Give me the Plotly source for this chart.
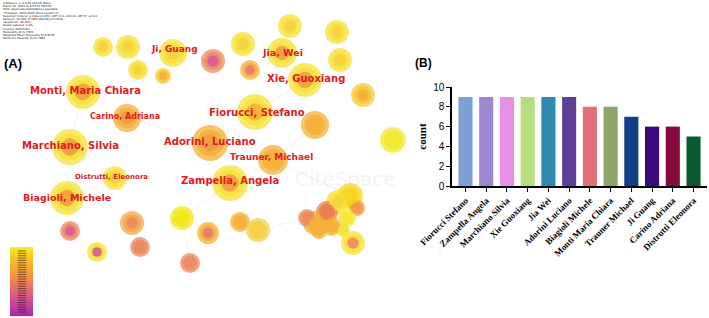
import plotly.graph_objects as go
import numpy as np

# ---------------- Panel B data ----------------
authors = ["Fiorucci Stefano", "Zampella Angela", "Marchiano Silvia", "Xie Guoxiang",
           "Jia Wei", "Adorini Luciano", "Biagioli Michele", "Monti Maria Chiara",
           "Trauner Michael", "Ji Guang", "Carino Adriana", "Distrutti Eleonora"]
counts = [9, 9, 9, 9, 9, 9, 8, 8, 7, 6, 6, 5]
bar_colors = ["#7ba1d6", "#9d86d2", "#e88fe6", "#b8dd7e", "#2e8ab1", "#5f3f96",
              "#e07075", "#8ba56a", "#0f3f86", "#3c0a80", "#850b3b", "#0a5a30"]
y_ticks = [0, 2, 4, 6, 8, 10]

# ---------------- Panel A data (CiteSpace network) ----------------
meta_lines = [
    "CiteSpace, v. 6.2.R2 (64-bit) Basic",
    "March 31, 2023 at 4:53:51 PM CST",
    "WoS: /Applications/CiteSpace.app/data",
    "Timespan: 2004-2022 (Slice Length=1)",
    "Selection Criteria: g-index (k=25), LRF=3.0, L/N=10, LBY=5, e=1.0",
    "Network: N=494, E=963 (Density=0.0079)",
    "Largest CC: 49 (9%)",
    "Nodes Labeled: 1.0%",
    "Pruning: Pathfinder",
    "Modularity Q=0.7353",
    "Weighted Mean Silhouette S=0.8735",
    "Harmonic Mean(Q, S)=0.7984",
]

Y, Y2, O, O2, S, M, P = "#f7e23a", "#f6cf45", "#f5b03a", "#f29a45", "#ec8a62", "#d65a9a", "#e77a78"
node_x = [103, 128, 173, 138, 163, 83, 127, 290, 337, 243, 213, 282, 250, 340, 305, 363, 255,
          315, 393, 70, 210, 273, 115, 230, 67, 70, 132, 97, 140, 182, 208, 190, 240, 258,
          353, 350, 338, 357, 327, 315, 307, 347, 343, 331, 319]
node_y = [47, 47, 53, 70, 76, 92, 118, 26, 32, 44, 61, 53, 70, 60, 80, 95, 112,
          125, 140, 147, 143, 160, 178, 183, 198, 231, 223, 252, 247, 218, 233, 263, 222, 230,
          243, 196, 202, 208, 212, 223, 218, 218, 230, 226, 231]
node_r = [10, 12, 14, 10, 8, 17, 14, 12, 12, 12, 12, 15, 10, 12, 17, 12, 18,
          14, 13, 18, 18, 15, 12, 18, 17, 10, 12, 10, 10, 12, 11, 10, 10, 12,
          12, 13, 12, 8, 11, 12, 9, 9, 7, 10, 8]
node_outer = [Y, Y, Y, Y, "#f6c83a", Y, O, Y, Y, Y, S, Y, O, Y, Y, "#f6c83a", Y,
              O, "#f5e830", Y, O, O, Y, Y, Y, S, "#f3a84a", Y, S, "#f5e61e", O, S, O, Y2,
              Y, "#f7d520", Y, O2, "#e8804a", O, S, "#f5e838", Y, O, O]
node_inner = [Y2, Y2, Y2, Y2, O, O2, O2, Y2, Y2, Y2, M, O2, P, Y2, O2, O, O,
              O, "#f5e830", O2, O2, O, Y2, O2, O2, M, S, M, S, "#f5e61e", P, S, O, Y2,
              S, "#f7d520", Y2, O2, "#e8804a", O, S, "#f5e838", Y, O, O]

label_text = ["Monti, Maria Chiara", "Carino, Adriana", "Fiorucci, Stefano", "Marchiano, Silvia",
              "Adorini, Luciano", "Trauner, Michael", "Distrutti, Eleonora", "Zampella, Angela",
              "Biagioli, Michele", "Ji, Guang", "Jia, Wei", "Xie, Guoxiang"]
label_x = [28, 88, 207, 20, 162, 228, 73, 179, 21, 149, 260, 265]
label_y = [90, 116, 112, 145, 141, 157, 177, 180, 197, 49, 52, 78]
label_size = [10, 8, 10, 10, 10, 9, 7, 10, 9.5, 9, 9.5, 10]

edges = [(5, 19), (19, 24), (20, 16), (20, 23), (23, 21), (21, 35), (16, 14), (6, 20),
         (24, 25), (22, 24), (23, 29), (29, 31), (11, 14), (2, 10), (17, 21), (33, 40)]

fig = go.Figure()

# ---- Panel B: bars ----
fig.add_trace(go.Bar(
    x=authors, y=counts, marker=dict(color=bar_colors, line=dict(width=0)),
    xaxis="x", yaxis="y", showlegend=False, hoverinfo="x+y"))

# ---- Panel A: edges ----
for a, b in edges:
    fig.add_trace(go.Scatter(
        x=[node_x[a], node_x[b]], y=[node_y[a], node_y[b]], mode="lines",
        line=dict(color="rgba(240,222,190,0.45)", width=1),
        xaxis="x2", yaxis="y2", showlegend=False, hoverinfo="skip"))

# ---- Panel A: nodes (halo, body, core) ----
d = np.array(node_r) * 2
fig.add_trace(go.Scatter(
    x=node_x, y=node_y, mode="markers",
    marker=dict(size=d, color=node_outer, opacity=0.75, line=dict(width=0)),
    xaxis="x2", yaxis="y2", showlegend=False, hoverinfo="skip"))
fig.add_trace(go.Scatter(
    x=node_x, y=node_y, mode="markers",
    marker=dict(size=d * 0.74, color=node_outer, opacity=0.85, line=dict(width=0)),
    xaxis="x2", yaxis="y2", showlegend=False, hoverinfo="skip"))
fig.add_trace(go.Scatter(
    x=node_x, y=node_y, mode="markers",
    marker=dict(size=d * 0.48, color=node_inner, opacity=0.9, line=dict(width=0)),
    xaxis="x2", yaxis="y2", showlegend=False, hoverinfo="skip"))

# ---- Panel A: colour legend strip ----
n_strip = 40
strip_y = np.linspace(248, 315, n_strip)
strip_z = [[v, v] for v in np.linspace(1, 0, n_strip)]
fig.add_trace(go.Heatmap(
    x=[15.75, 27.25], y=strip_y, z=strip_z, showscale=False, hoverinfo="skip",
    colorscale=[[0, "#a62aa6"], [0.3, "#dc5a86"], [0.6, "#f5963c"], [0.85, "#f8c528"], [1, "#f7ea1e"]],
    xaxis="x2", yaxis="y2"))
n_dash = 27
fig.add_trace(go.Scatter(
    x=[22] * n_dash, y=np.linspace(251, 312, n_dash), mode="markers",
    marker=dict(symbol="line-ew", size=6, line=dict(width=0.8, color="rgba(40,20,20,0.7)")),
    xaxis="x2", yaxis="y2", showlegend=False, hoverinfo="skip"))

annotations = []
# watermark
annotations.append(dict(x=398, y=165, xref="x2", yref="y2", text="CiteSpace", showarrow=False,
                        xanchor="right", yanchor="top",
                        font=dict(family="DejaVu Sans", size=20, color="rgba(215,215,215,0.3)")))
# metadata
for i, line in enumerate(meta_lines):
    annotations.append(dict(x=1, y=3 + i * 3.2, xref="x2", yref="y2", text=line, showarrow=False,
                            xanchor="left", yanchor="middle",
                            font=dict(family="DejaVu Sans", size=2.8, color="#111111")))
# node labels
for t, lx, ly, ls in zip(label_text, label_x, label_y, label_size):
    annotations.append(dict(x=lx, y=ly, xref="x2", yref="y2", text=t, showarrow=False,
                            xanchor="left", yanchor="middle",
                            font=dict(family="DejaVu Sans", size=ls, color="#e3191c", weight="bold")))
# panel tags
annotations.append(dict(x=2, y=63, xref="x2", yref="y2", text="(A)", showarrow=False,
                        xanchor="left", yanchor="middle",
                        font=dict(family="Liberation Sans", size=13, color="black", weight="bold")))
annotations.append(dict(x=413 / 709, y=(318 - 63) / 318, xref="paper", yref="paper", text="(B)",
                        showarrow=False, xanchor="left", yanchor="middle",
                        font=dict(family="Liberation Sans", size=12, color="black", weight="bold")))

fig.update_layout(
    width=709, height=318, autosize=False,
    margin=dict(l=0, r=0, t=0, b=0, pad=0, autoexpand=False),
    paper_bgcolor="white", plot_bgcolor="rgba(0,0,0,0)",
    bargap=0.32,
    annotations=annotations,
    xaxis=dict(domain=[452 / 709, 707 / 709], range=[-0.65, 11.65], showgrid=False, automargin=False,
               zeroline=False, showline=True, linecolor="black", linewidth=1.5,
               ticks="outside", ticklen=4, tickwidth=1.2, tickcolor="black",
               tickangle=-45, tickfont=dict(family="Liberation Serif", size=9, color="black",
                                            weight="bold"), fixedrange=True),
    yaxis=dict(domain=[(318 - 186) / 318, (318 - 87) / 318], range=[0, 10], tickvals=y_ticks,
               showgrid=False, zeroline=False, showline=True, linecolor="black", linewidth=1.5,
               ticks="outside", ticklen=4, tickwidth=1.2, tickcolor="black", automargin=False,
               tickfont=dict(family="Liberation Sans", size=10, color="black"),
               title=dict(text="count", standoff=4,
                          font=dict(family="Liberation Serif", size=11, color="black", weight="bold"))),
    xaxis2=dict(domain=[0, 420 / 709], range=[0, 420], visible=False, fixedrange=True, automargin=False),
    yaxis2=dict(domain=[0, 1], range=[318, 0], visible=False, fixedrange=True, automargin=False),
)

fig.write_html("out.html", config={"displayModeBar": False},
               post_script="document.body.style.margin='0px';")
